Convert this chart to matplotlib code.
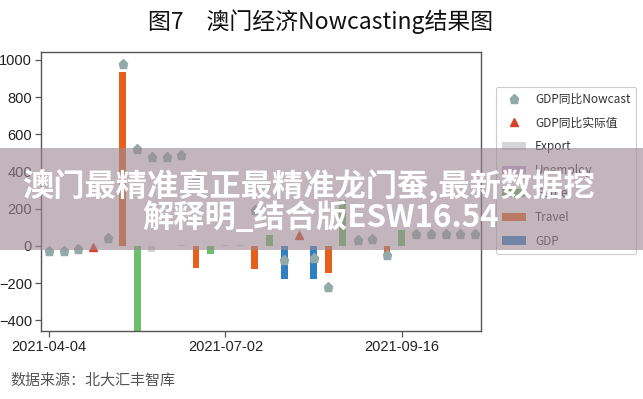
import numpy as np
import matplotlib
matplotlib.use("Agg")
import matplotlib.pyplot as plt
from matplotlib.patches import Rectangle, Patch
from matplotlib.lines import Line2D

plt.rcParams['font.family'] = ['Liberation Sans', 'Noto Sans CJK SC', 'DejaVu Sans']

nan = np.nan
# ---- data ----
n_obs = 30
tick_idx = [0, 12, 24]
tick_labels = ["2021-04-04", "2021-07-02", "2021-09-16"]

nowcast = [-25, -25, -18, nan, 43, 978, 520, 477, 477, 488,
           373, nan, nan, nan, 193, nan, -75, nan, -66, -219,
           nan, 30, 35, -48, nan, 66, 66, 66, 66, 66]
actual = [nan, nan, nan, -7, nan, nan, nan, nan, nan, nan,
          nan, nan, nan, nan, nan, nan, nan, 59, nan, nan,
          nan, nan, nan, nan, nan, nan, nan, nan, nan, nan]
export = [0, 0, 7, 0, 0, 0, 0, -30, 0, 7,
          0, 0, 7, 7, 0, 0, 0, 0, 0, 0,
          0, 0, 0, 0, 0, 0, 0, 0, 0, 0]
other = [0] * 30
game = [0, 0, 0, 0, 0, 0, -520, 0, 0, 0,
        0, -45, 0, 0, 0, 60, 0, 0, 0, 0,
        247, 0, 0, 0, 86, 0, 0, 0, 0, 0]
travel = [0, 0, 0, 0, 0, 937, 0, 0, 0, 0,
          -120, 0, 0, 0, -125, 0, 0, 0, 0, -147,
          0, 0, 0, -75, 0, 0, 0, 0, 0, 0]
gdp = [0, 0, 0, 0, 0, 0, 0, 0, 0, 0,
       0, 0, 0, 0, 0, 0, -180, 0, -180, 0,
       0, 0, 0, 0, 0, 0, 0, 0, 0, 0]

series_names = ["Export", "Unemploy", "Game", "Travel", "GDP"]
series_colors = ["#d6d6d6", "#c9a9d6", "#6cbf6c", "#e5601d", "#2f7fc3"]

title = "图7　澳门经济Nowcasting结果图"
source = "数据来源：北大汇丰智库"
wm1 = "澳门最精准真正最精准龙门蚕,最新数据挖"
wm2 = "解释明_结合版ESW16.54"

# ---- figure ----
fig = plt.figure(figsize=(6.43, 3.99), dpi=100)
ax = fig.add_axes([41/643, 1-331/399, (481-41)/643, (331-52)/399])

x = np.arange(n_obs)
for vals, c in zip([export, other, game, travel, gdp], series_colors):
    ax.bar(x, vals, width=0.47, color=c, zorder=2)

ax.plot(x, nowcast, linestyle='none', marker='p', markersize=6.5,
        color='#93aba8', zorder=3)
ax.plot(x, actual, linestyle='none', marker='^', markersize=6,
        color='#d8412a', zorder=3)

ax.set_xlim(-0.55, 29.4)
ax.set_ylim(-457, 1043)
ax.set_yticks([-400, -200, 0, 200, 400, 600, 800, 1000])
ax.set_xticks(tick_idx)
ax.set_xticklabels(tick_labels)
for s in ax.spines.values():
    s.set_color('#555555')
    s.set_linewidth(1.0)
ax.tick_params(axis='both', labelsize=10.5, colors='#222222', length=4, width=0.9, pad=2.5)
ax.tick_params(axis='both', color='#555555')

handles = [Line2D([], [], linestyle='none', marker='p', markersize=6.5, color='#93aba8'),
           Line2D([], [], linestyle='none', marker='^', markersize=6, color='#d8412a')]
handles += [Patch(facecolor=c, edgecolor='none') for c in series_colors]
labels = ["GDP同比Nowcast", "GDP同比实际值"] + series_names
leg = fig.legend(handles, labels, loc='upper left', bbox_to_anchor=(496/643, 1-87/399),
                 prop={'family': ['Noto Sans CJK SC', 'DejaVu Sans'], 'size': 8.5},
                 frameon=True, edgecolor='#cccccc', fancybox=True,
                 labelspacing=0.9, handlelength=2.0, handletextpad=0.8,
                 borderpad=0.5, borderaxespad=0, framealpha=1)
leg.get_frame().set_linewidth(0.8)
for t in leg.get_texts():
    t.set_color('#333333')

fig.text(321/643, 1-22/399, title, ha='center', va='center', fontsize=16.5,
         family=['Noto Sans CJK SC', 'DejaVu Sans'], color='#111111')
fig.text(10/643, 1-381/399, source, ha='left', va='center', fontsize=10.8,
         family=['Noto Sans CJK SC', 'DejaVu Sans'], color='#555555')

# overlay band + watermark
fig.add_artist(Rectangle((0, 1-250/399), 1, 102/399, transform=fig.transFigure,
                         facecolor='#9d8a93', alpha=0.62, edgecolor='none', zorder=10))
fig.text(308/643, 1-185/399, wm1, ha='center', va='center', fontsize=22.5,
         fontweight='bold', color='white', family=['Noto Sans CJK SC', 'DejaVu Sans'],
         zorder=11)
fig.text(321/643, 1-218/399, wm2, ha='center', va='center', fontsize=22.5,
         fontweight='bold', color='white', family=['Noto Sans CJK SC', 'DejaVu Sans'],
         zorder=11)

fig.savefig("out.png", dpi=100)
